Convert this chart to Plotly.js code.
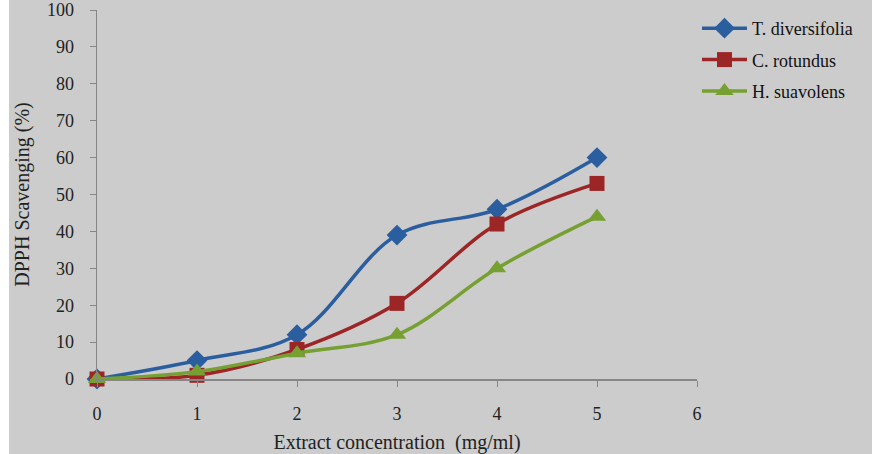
<!DOCTYPE html>
<html>
<head>
<meta charset="utf-8">
<script src="https://cdn.plot.ly/plotly-3.0.1.min.js"></script>
<style>
html,body{margin:0;padding:0;background:#ffffff;}
#chart{position:absolute;left:9px;top:0;width:863px;height:454px;}
</style>
</head>
<body>
<div id="chart"></div>
<script>
const concentrations = [0, 1, 2, 3, 4, 5];
const tDiversifolia = [0, 5, 12, 39, 46, 60];
const cRotundus = [0, 1, 8, 20.5, 42, 53];
const hSuavolens = [0, 2, 7, 12, 30, 44];
const seriesNames = ["T. diversifolia", "C. rotundus", "H. suavolens"];
const xTicks = [0, 1, 2, 3, 4, 5, 6];
const yTicks = [0, 10, 20, 30, 40, 50, 60, 70, 80, 90, 100];

const font = "'Liberation Serif', 'Times New Roman', serif";

const traces = [
  {x: concentrations, y: tDiversifolia, name: seriesNames[0], legendgroup: 'g1', mode: 'lines+markers', cliponaxis: false,
   line: {color: '#2A5E9F', width: 3.5, shape: 'spline', smoothing: 1},
   marker: {symbol: 'diamond', size: 16, color: '#2A5E9F'}},
  {x: concentrations, y: cRotundus, name: seriesNames[1], legendgroup: 'g2', mode: 'lines+markers', cliponaxis: false,
   line: {color: '#9C2526', width: 3.5, shape: 'spline', smoothing: 1},
   marker: {symbol: 'square', size: 15, color: '#9C2526'}},
  {x: concentrations, y: hSuavolens, name: seriesNames[2], legendgroup: 'g3', mode: 'lines+markers', cliponaxis: false,
   line: {color: '#77A032', width: 3.5, shape: 'spline', smoothing: 1},
   marker: {symbol: 'triangle-up', size: 16, color: '#77A032'}}
];

const layout = {
  width: 863, height: 454,
  paper_bgcolor: '#cccccc', plot_bgcolor: '#cccccc',
  margin: {l: 88, r: 175, t: 10, b: 75},
  font: {family: font, size: 17, color: '#222222'},
  showlegend: true,
  legend: {x: 1.0, xanchor: 'left', y: 1.0, yanchor: 'top', bgcolor: 'rgba(0,0,0,0)',
           font: {family: font, size: 18, color: '#111111'}, tracegroupgap: 5, itemwidth: 45},
  xaxis: {
    range: [0, 6], tickvals: xTicks, ticktext: xTicks.map(String),
    showgrid: false, zeroline: false, showline: true, linecolor: '#868686', linewidth: 1.5,
    ticks: 'outside', ticklen: 6, tickcolor: '#868686', ticklabelstandoff: 12,
    tickfont: {family: font, size: 18, color: '#222222'},
    title: {text: 'Extract concentration  (mg/ml)', font: {family: font, size: 20, color: '#222222'}, standoff: 12}
  },
  yaxis: {
    range: [0, 100], tickvals: yTicks, ticktext: yTicks.map(String),
    showgrid: false, zeroline: false, showline: true, linecolor: '#868686', linewidth: 1.5,
    ticks: 'outside', ticklen: 6, tickcolor: '#868686', ticklabelstandoff: 12,
    tickfont: {family: font, size: 18, color: '#222222'},
    title: {text: 'DPPH Scavenging (%)', font: {family: font, size: 20, color: '#222222'}, standoff: 12}
  }
};

Plotly.newPlot('chart', traces, layout, {displayModeBar: false, staticPlot: true});
</script>
</body>
</html>
